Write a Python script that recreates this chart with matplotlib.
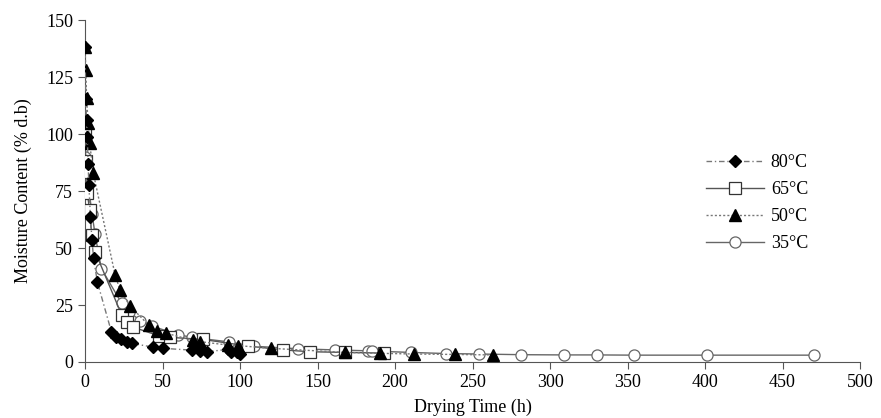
import matplotlib.pyplot as plt

plt.rcParams['font.family'] = ['Liberation Serif', 'DejaVu Serif']

# drying time (h) and moisture content (% d.b) for each temperature
t80 = [0, 0.5, 1, 1.5, 2, 2.5, 3.5, 4.5, 5.5, 8, 17, 20, 23.5, 27, 30, 44, 50, 69, 74, 78.5, 92, 94, 98, 100]
m80 = [138, 115.5, 106, 98.5, 87, 77.5, 63.5, 53.5, 45.5, 35, 13.3, 11.1, 9.9, 8.9, 8.2, 6.5, 6, 5.2, 4.8, 4.5, 5.5, 4.3, 4.5, 3.7]

t65 = [0, 0.5, 1, 1.5, 3, 4.3, 6.5, 23.7, 27, 31, 48, 55, 76, 105, 128, 145, 168, 193]
m65 = [100, 88, 83.5, 74, 66.5, 55.7, 48.4, 20.6, 17.7, 15.3, 11.4, 10.8, 9.9, 7, 5.3, 4.5, 4.2, 3.9]

t50 = [0, 0.5, 1, 2, 3, 5.4, 19.4, 22.6, 29, 41, 46.5, 52, 69.5, 74.5, 92.5, 98.5, 120, 167.5, 190.5, 212.5, 239, 263]
m50 = [138, 128, 116, 104.7, 96, 82.7, 38.2, 31.6, 24.6, 16.2, 13.6, 12.7, 9.5, 8.9, 7.4, 7.2, 6, 4.2, 3.8, 3.5, 3.3, 3.1]

t35 = [0, 0.5, 4.5, 6.5, 10.5, 23.7, 28.5, 35.5, 43, 60, 69, 93, 109, 137.6, 161, 182.5, 185, 210, 233, 254, 281.5, 308.8, 330, 354, 401, 470.5]
m35 = [90, 86.5, 65, 56, 41, 25.7, 22, 18.2, 15.8, 12, 10.8, 8.8, 6.9, 5.8, 5.3, 4.9, 4.8, 4.2, 3.7, 3.5, 3.2, 3.1, 3.1, 3.0, 3.0, 3.0]

fig = plt.figure(figsize=(8.81, 4.18), dpi=100)
ax = fig.add_axes([0.0965, 0.134, 0.8797, 0.818])

ax.plot(t80, m80, color='#777777', lw=1, ls=(0, (4, 2, 1, 2)), marker='D', ms=6.5,
        mfc='black', mec='black', label='80°C', zorder=5)
ax.plot(t65, m65, color='#555555', lw=1, ls='-', marker='s', ms=8,
        mfc='white', mec='#333333', mew=0.9, label='65°C', zorder=3)
ax.plot(t50, m50, color='#777777', lw=1, ls=(0, (1.5, 1.5)), marker='^', ms=8,
        mfc='black', mec='black', label='50°C', zorder=4)
ax.plot(t35, m35, color='#666666', lw=1, ls='-', marker='o', ms=8,
        mfc='white', mec='#666666', mew=0.9, label='35°C', zorder=2)

ax.set_xlim(0, 500)
ax.set_ylim(0, 150)
ax.set_xticks(range(0, 501, 50))
ax.set_yticks(range(0, 151, 25))
ax.spines['top'].set_visible(False)
ax.spines['right'].set_visible(False)
ax.spines['left'].set_color('#555555')
ax.spines['bottom'].set_color('#555555')
ax.tick_params(direction='out', length=5, color='#555555', labelsize=13)

ax.set_xlabel('Drying Time (h)', fontsize=13, labelpad=6)
ax.set_ylabel('Moisture Content (% d.b)', fontsize=13, labelpad=10)

ax.legend(loc='upper left', bbox_to_anchor=(0.78, 0.655), frameon=False,
          fontsize=13, handlelength=3.2, handletextpad=0.4, labelspacing=0.55)

fig.savefig('out.png', dpi=100)
